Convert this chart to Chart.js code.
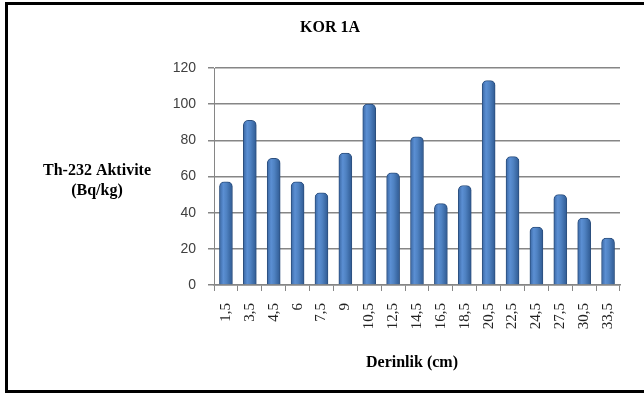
<!DOCTYPE html>
<html><head><meta charset="utf-8">
<script src="https://cdn.jsdelivr.net/npm/chart.js@4/dist/chart.umd.min.js"></script>
<style>
html,body{margin:0;padding:0;background:#fff;overflow:hidden}
#wrap{position:relative;width:644px;height:398px}
#frame{position:absolute;left:5px;top:2px;width:660px;height:391px;border:3px solid #000;box-sizing:border-box;pointer-events:none}
canvas{position:absolute;left:0;top:0}
</style></head>
<body><div id="wrap"><canvas id="c" width="644" height="398"></canvas><div id="frame"></div></div>
<script>
const chartTitle = "KOR 1A";
const yTitle = ["Th-232 Aktivite", "(Bq/kg)"];
const xTitle = "Derinlik (cm)";
const categories = ["1,5","3,5","4,5","6","7,5","9","10,5","12,5","14,5","16,5","18,5","20,5","22,5","24,5","27,5","30,5","33,5"];
const values = [57, 91, 70, 57, 51, 73, 100, 62, 82, 45, 55, 113, 71, 32, 50, 37, 26];
const yTicks = [0, 20, 40, 60, 80, 100, 120];

const textPlugin = {
  id: 'texts',
  afterDraw(chart) {
    const ctx = chart.ctx;
    ctx.save();
    ctx.fillStyle = '#000';
    ctx.textAlign = 'center';
    ctx.textBaseline = 'middle';
    ctx.font = 'bold 16px "Liberation Serif"';
    ctx.fillText(chartTitle, 330, 28);
    ctx.fillText(yTitle[0], 97, 171);
    ctx.fillText(yTitle[1], 97, 191);
    ctx.fillText(xTitle, 412, 363);
    ctx.restore();
  }
};

function barFill(context) {
  const chart = context.chart;
  const xs = chart.scales && chart.scales.x;
  if (!chart.chartArea || !xs) return '#4A7EBB';
  const cx = xs.getPixelForValue(context.dataIndex);
  const w = 13;
  const g = chart.ctx.createLinearGradient(cx - w/2, 0, cx + w/2, 0);
  g.addColorStop(0, '#3A67A3');
  g.addColorStop(0.3, '#5B8FD3');
  g.addColorStop(0.55, '#4F82C2');
  g.addColorStop(1, '#2F5A92');
  return g;
}

new Chart(document.getElementById('c'), {
  type: 'bar',
  data: {
    labels: categories,
    datasets: [{
      data: values,
      backgroundColor: barFill,
      borderColor: '#2C4F7E',
      borderWidth: 1,
      borderSkipped: 'bottom',
      borderRadius: {topLeft: 5, topRight: 5},
      barThickness: 13
    }]
  },
  options: {
    responsive: false,
    animation: false,
    layout: { padding: { left: 0, right: 24, top: 68, bottom: 0 } },
    plugins: { legend: { display: false }, tooltip: { enabled: false }, title: { display: false } },
    scales: {
      x: {
        offset: true,
        grid: { display: true, drawOnChartArea: false, drawTicks: true, tickLength: 6, color: '#868686', lineWidth: 1 },
        border: { display: true, color: '#868686', width: 1.5 },
        ticks: { minRotation: 90, maxRotation: 90, autoSkip: false, color: '#222', padding: 12,
                 font: { family: '"Liberation Serif"', size: 15 } },
        afterFit(axis) { axis.height = 113; }
      },
      y: {
        min: 0, max: 120,
        afterBuildTicks(axis) { axis.ticks = yTicks.map(v => ({ value: v })); },
        grid: { color: '#868686', lineWidth: 1.5, tickLength: 6 },
        border: { display: true, color: '#868686', width: 1 },
        ticks: { color: '#404040', padding: 12, font: { family: '"Liberation Sans"', size: 14 } },
        afterFit(axis) { axis.width = 214; }
      }
    }
  },
  plugins: [textPlugin]
});
</script></body></html>
